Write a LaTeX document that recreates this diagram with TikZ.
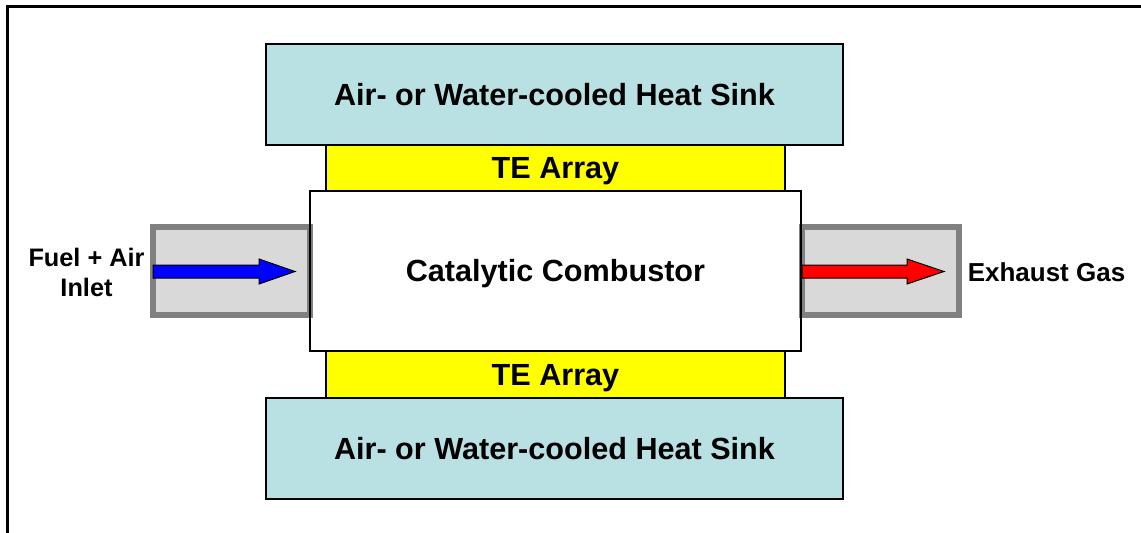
\documentclass[tikz,border=0pt]{standalone}
\usepackage{fontspec}
\setmainfont{Liberation Sans}
\definecolor{sinkblue}{RGB}{185,224,227}
\definecolor{teyellow}{RGB}{255,255,0}
\definecolor{ductfill}{RGB}{217,217,217}
\definecolor{ductline}{RGB}{128,128,128}
\begin{document}
\begin{tikzpicture}[x=1pt,y=-1pt,
  bigtext/.style={font=\bfseries\fontsize{30.6}{36}\selectfont, text height=21.5pt, text depth=0pt, inner sep=0pt},
  sidetext/.style={font=\bfseries\fontsize{25.3}{30}\selectfont, align=center, inner sep=0pt},
  sink/.style={bigtext, draw=black, line width=1.2pt, fill=sinkblue, minimum width=577pt, minimum height=101pt},
  tearray/.style={bigtext, draw=black, line width=1.2pt, fill=teyellow, minimum width=459pt, minimum height=46pt},
  combustor/.style={bigtext, draw=black, line width=1.2pt, minimum width=491pt, minimum height=160pt},
  duct/.style={draw=ductline, line width=6pt, fill=ductfill, minimum width=157pt, minimum height=88pt, inner sep=0pt},
  flow/.style={draw=black, line width=1pt, line join=miter}
]
\useasboundingbox (0,0) rectangle (1141,533);
% frame
\draw[line width=3pt] (7.5,533) -- (7.5,6.5) -- (1141,6.5);
% heat sinks and TE arrays
\node[sink] (sinktop) at (554.5,94.5) {Air- or Water-cooled Heat Sink};
\node[tearray] (tetop) at (555.5,168) {TE Array};
\node[tearray] (tebot) at (555.5,374.5) {TE Array};
\node[sink] (sinkbot) at (554.5,448.5) {Air- or Water-cooled Heat Sink};
% ducts
\node[duct] (inlet) at (231.5,271) {};
\node[duct] (outlet) at (880,271) {};
% combustor
\node[combustor] (comb) at (555.5,271) {Catalytic Combustor};
% flow arrows
\draw[flow, fill=blue] (153,265) -- (259,265) -- (259,259) -- (295,271.5) -- (259,284) -- (259,278) -- (153,278) -- cycle;
\draw[flow, fill=red] (802,265) -- (907,265) -- (907,259) -- (944,271.5) -- (907,284) -- (907,278) -- (802,278) -- cycle;
% labels
\node[sidetext] (fuellabel) at (86.5,272.5) {Fuel + Air\\Inlet};
\node[sidetext, font=\bfseries\fontsize{26}{30}\selectfont, text height=18.5pt, text depth=0pt] (exhaustlabel) at (1046.5,272.5) {Exhaust Gas};
\end{tikzpicture}
\end{document}
